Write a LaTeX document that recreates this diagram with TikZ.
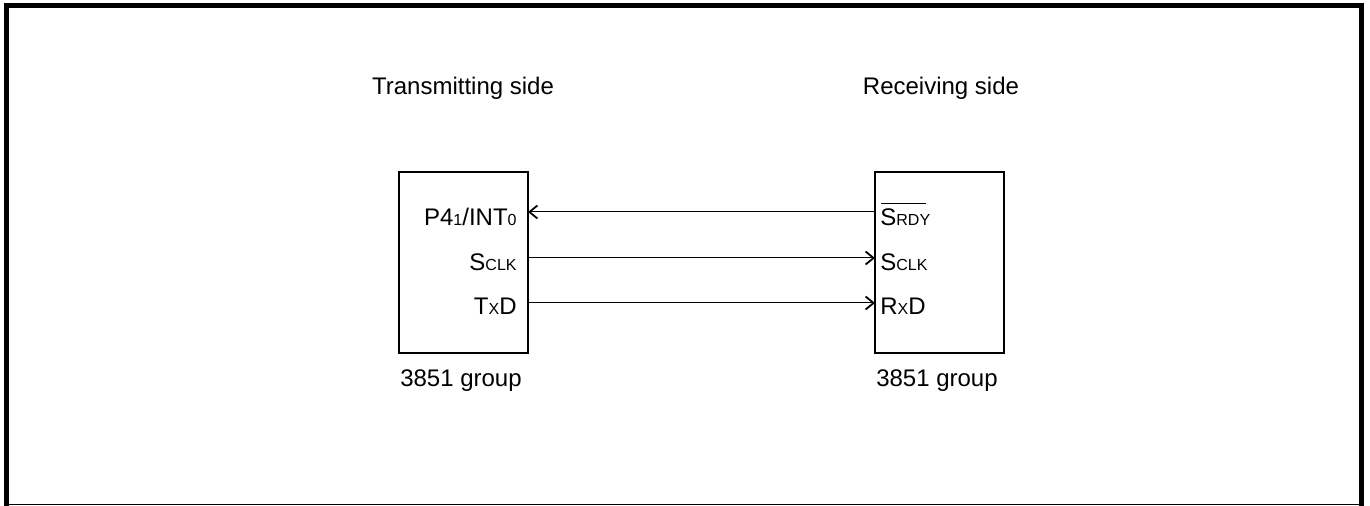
\documentclass[tikz,border=0pt]{standalone}
\usepackage{fontspec}
\setmainfont{Liberation Sans}
\usetikzlibrary{arrows.meta}
\newcommand{\sml}[1]{{\fontsize{8}{9}\selectfont #1}}
\begin{document}
\begin{tikzpicture}[x=0.5pt,y=-0.5pt,
  chip/.style={draw,line width=1pt},
  lbl/.style={inner sep=0pt,font=\fontsize{12}{14}\selectfont},
  sig/.style={line width=0.5pt,-{Straight Barb[length=4pt,width=6.5pt,line width=0.9pt]}}]
\useasboundingbox (0,0) rectangle (1370,506);
% frame
\draw[line width=2.5pt] (6.5,506) -- (6.5,5.5) -- (1361.5,5.5) -- (1361.5,506);
\draw[line width=0.8pt] (6.5,504.5) -- (1361.5,504.5);
% boxes
\draw[chip] (399,172) rectangle (528,353);
\draw[chip] (875,172) rectangle (1004,353);
\coordinate (L1) at (528,212);
\coordinate (L2) at (528,258);
\coordinate (L3) at (528,303);
\coordinate (R1) at (875,212);
\coordinate (R2) at (875,258);
\coordinate (R3) at (875,303);
% titles
\node[lbl] (tt) at (463,88) {Transmitting side};
\node[lbl] (rt) at (941,88) {Receiving side};
\node[lbl] (lg) at (461,381) {3851 group};
\node[lbl] (rg) at (937,381) {3851 group};
% left labels
\node[lbl,anchor=base east] (p41) at (517,226) {P4\sml{1}/INT\sml{0}};
\node[lbl,anchor=base east] (sclkl) at (517,271) {S\sml{CLK}};
\node[lbl,anchor=base east] (txd) at (517,315) {T\sml{X}D};
% right labels
\node[lbl,anchor=base west] (srdy) at (880,226) {S\sml{RDY}};
\draw[line width=0.6pt] (881,203.5) -- (926,203.5);
\node[lbl,anchor=base west] (sclkr) at (880,271) {S\sml{CLK}};
\node[lbl,anchor=base west] (rxd) at (880,315) {R\sml{X}D};
% signals
\draw[sig] (R1) -- (L1);
\draw[sig] (L2) -- (R2);
\draw[sig] (L3) -- (R3);
\end{tikzpicture}
\end{document}
